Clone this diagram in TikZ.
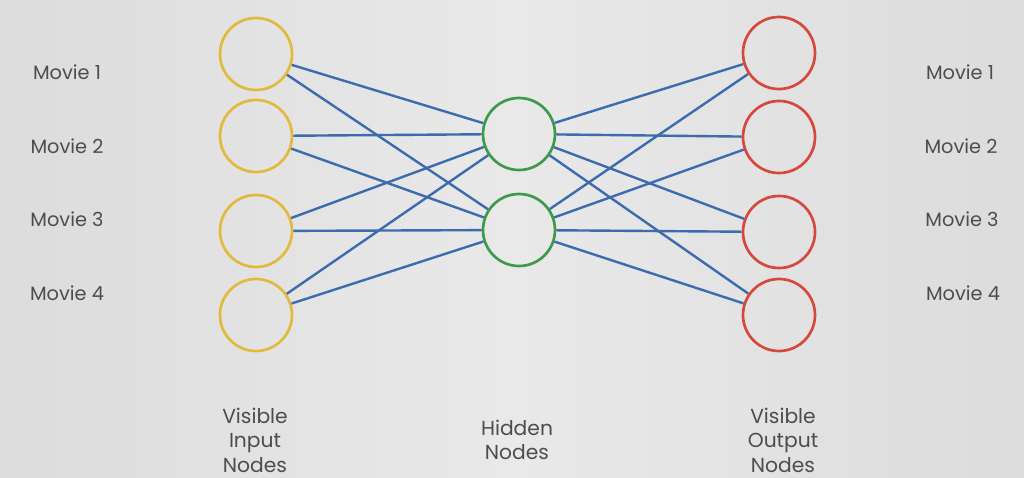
\documentclass[tikz,border=0pt]{standalone}
\usepackage{fontspec}
\setmainfont{Poppins}
\usepackage{tikz}
\usetikzlibrary{positioning}
\definecolor{bggray}{HTML}{E8E9E8}
\definecolor{bgdark}{HTML}{DBDCDB}
\definecolor{inyellow}{HTML}{E2B93B}
\definecolor{hidgreen}{HTML}{3E9A4A}
\definecolor{outred}{HTML}{D7473C}
\definecolor{edgeblue}{HTML}{3D6CAE}
\definecolor{txtgray}{HTML}{4D4D4D}

\begin{document}
\begin{tikzpicture}[x=0.75pt, y=-0.75pt, Unit/.style={circle, draw, line width=2pt, minimum size=54pt, inner sep=0pt}, Input/.style={Unit, draw=inyellow}, Hidden/.style={Unit, draw=hidgreen}, Output/.style={Unit, draw=outred}, Edge/.style={draw=edgeblue, line width=1.8pt}, Movie/.style={text=txtgray, font={\fontsize{14.5}{16}\selectfont}}, Layer/.style={text=txtgray, align=center, font={\fontsize{15.2}{18.4}\selectfont}}]
\shade[left color=bgdark, right color=bgdark, middle color=bggray] (0,0) rectangle (1024,478);
\useasboundingbox (0,0) rectangle (1024,478);
% Units
\node[Input] (in1) at (256,54) {};
\node[Input] (in2) at (256,136) {};
\node[Input] (in3) at (256,231) {};
\node[Input] (in4) at (256,315) {};
\node[Hidden] (hid1) at (519,134) {};
\node[Hidden] (hid2) at (519,230) {};
\node[Output] (out1) at (779,53) {};
\node[Output] (out2) at (779,137) {};
\node[Output] (out3) at (779,232) {};
\node[Output] (out4) at (779,315) {};
% Connections
\draw[Edge] (in1) -- (hid1);
\draw[Edge] (in1) -- (hid2);
\draw[Edge] (in2) -- (hid1);
\draw[Edge] (in2) -- (hid2);
\draw[Edge] (in3) -- (hid1);
\draw[Edge] (in3) -- (hid2);
\draw[Edge] (in4) -- (hid1);
\draw[Edge] (in4) -- (hid2);
\draw[Edge] (hid1) -- (out1);
\draw[Edge] (hid1) -- (out2);
\draw[Edge] (hid1) -- (out3);
\draw[Edge] (hid1) -- (out4);
\draw[Edge] (hid2) -- (out1);
\draw[Edge] (hid2) -- (out2);
\draw[Edge] (hid2) -- (out3);
\draw[Edge] (hid2) -- (out4);
% Labels
\node[Movie] (mi1) at (67,72) {Movie 1};
\node[Movie] (mi2) at (67,146) {Movie 2};
\node[Movie] (mi3) at (67,219) {Movie 3};
\node[Movie] (mi4) at (67,293) {Movie 4};
\node[Movie] (mo1) at (960,72) {Movie 1};
\node[Movie] (mo2) at (961,146) {Movie 2};
\node[Movie] (mo3) at (962,219) {Movie 3};
\node[Movie] (mo4) at (963,293) {Movie 4};
\node[Layer] (lin) at (255,440) {Visible\\Input\\Nodes};
\node[Layer] (lhid) at (517,440) {Hidden\\Nodes};
\node[Layer] (lout) at (783,440) {Visible\\Output\\Nodes};
\end{tikzpicture}
\end{document}
